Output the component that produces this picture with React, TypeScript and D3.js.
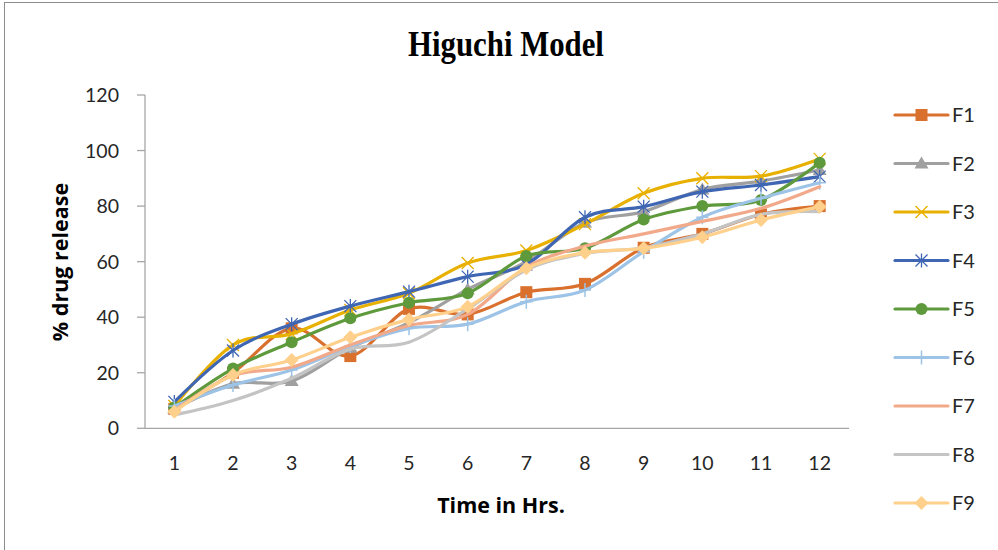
import React from "react";
import * as d3 from "d3";

const hours = ["1", "2", "3", "4", "5", "6", "7", "8", "9", "10", "11", "12"];
const yTicks = [0, 20, 40, 60, 80, 100, 120];

const F1 = [7, 20, 36, 26, 43, 41, 49, 52, 65, 70, 77, 80];
const F2 = [7, 16, 17, 29, 38, 50, 60, 74, 78, 86, 89, 93];
const F3 = [8, 30, 34, 42.6, 48.6, 59.5, 64, 73.5, 84.6, 90, 90.8, 97];
const F4 = [9.5, 28, 37.5, 44, 49.2, 54.6, 59, 76, 79.8, 85.2, 87.6, 90.6];
const F5 = [7.5, 21.5, 31, 39.6, 45.2, 48.6, 62, 64.8, 75.2, 80, 82.2, 95.6];
const F6 = [8, 15.6, 21, 29.5, 36, 37.5, 45.6, 49.8, 63.6, 76, 82.8, 88.4];
const F7 = [6.5, 19, 22, 30, 37, 41, 58, 65.6, 70, 74.5, 79.2, 87];
const F8 = [4.8, 10, 18, 28.5, 31, 43, 57, 63, 65, 70, 77, 78];
const F9 = [6, 19.2, 24.6, 32.8, 39.2, 43.8, 57.6, 63.2, 64.8, 68.8, 75, 79.8];

const seriesNames = ["F1", "F2", "F3", "F4", "F5", "F6", "F7", "F8", "F9"];
const seriesValues = [F1, F2, F3, F4, F5, F6, F7, F8, F9];
const seriesColors = ["#D9702E", "#A0A0A0", "#E8B000", "#3F66B3", "#5E9A3C", "#9DC3E6", "#F2A98A", "#C4C4C4", "#FFD08C"];
const seriesMarkers = ["square", "triangle", "x", "star", "circle", "plus", "none", "none", "diamond"];

const W = 998;
const H = 550;
const FONT = "Lato, 'Open Sans', sans-serif";

function Marker({ type, x, y, color }: { type: string; x: number; y: number; color: string }) {
  const s = 6;
  switch (type) {
    case "square":
      return <rect x={x - s} y={y - s} width={2 * s} height={2 * s} fill={color} />;
    case "triangle":
      return <path d={`M${x},${y - s - 1}L${x + s + 1},${y + s - 1}L${x - s - 1},${y + s - 1}Z`} fill={color} />;
    case "x":
      return (
        <path d={`M${x - s},${y - s}L${x + s},${y + s}M${x - s},${y + s}L${x + s},${y - s}`} stroke={color} strokeWidth={1.3} />
      );
    case "star":
      return (
        <path
          d={`M${x - s},${y - s}L${x + s},${y + s}M${x - s},${y + s}L${x + s},${y - s}M${x},${y - s - 1}L${x},${y + s + 1}`}
          stroke={color}
          strokeWidth={1.3}
        />
      );
    case "circle":
      return <circle cx={x} cy={y} r={s} fill={color} />;
    case "plus":
      return <path d={`M${x - s},${y}L${x + s},${y}M${x},${y - s - 1}L${x},${y + s + 1}`} stroke={color} strokeWidth={1.5} />;
    case "diamond":
      return <path d={`M${x},${y - s - 1}L${x + s + 1},${y}L${x},${y + s + 1}L${x - s - 1},${y}Z`} fill={color} />;
    default:
      return null;
  }
}

export default function App() {
  const x = d3.scalePoint<string>().domain(hours).range([145, 849]).padding(0.5);
  const y = d3.scaleLinear().domain([0, 120]).range([428.3, 95]);
  const line = d3
    .line<number>()
    .x((_, i) => x(hours[i]) as number)
    .y((d) => y(d))
    .curve(d3.curveCatmullRom.alpha(0));

  const legendY0 = 115;
  const legendStep = 48.5;

  return (
    <svg width={W} height={H} style={{ position: "absolute", left: 0, top: 0, background: "#fff" }} fontFamily={FONT}>
      <rect x={0} y={0} width={W} height={H} fill="#fff" />
      <rect x={4.5} y={2.5} width={W + 10} height={H + 10} fill="none" stroke="#8c8c8c" strokeWidth={1} />

      <g transform="translate(506,56) scale(0.88,1)">
        <text x={0} y={0} textAnchor="middle" fontFamily="'Liberation Serif', 'Times New Roman', serif" fontWeight="bold" fontSize={35} fill="#000">
          Higuchi Model
        </text>
      </g>

      {/* Y axis */}
      <line x1={145} x2={145} y1={y(120)} y2={y(0)} stroke="#A6A6A6" strokeWidth={1.3} />
      {yTicks.map((t) => (
        <g key={t}>
          <line x1={137} x2={145} y1={y(t)} y2={y(t)} stroke="#A6A6A6" strokeWidth={1.3} />
          <text x={119} y={y(t)} dy="0.36em" textAnchor="end" fontSize={19.5} fill="#262626">
            {t}
          </text>
        </g>
      ))}

      {/* X axis */}
      <line x1={145} x2={849} y1={y(0)} y2={y(0)} stroke="#A6A6A6" strokeWidth={1.3} />
      {hours.map((h) => (
        <text key={h} x={x(h)} y={463} dy="0.36em" textAnchor="middle" fontSize={19.5} fill="#262626">
          {h}
        </text>
      ))}

      <text x={501} y={505} dy="0.36em" textAnchor="middle" fontFamily="'Open Sans', sans-serif" fontWeight="bold" fontSize={21.5} fill="#000">
        Time in Hrs.
      </text>
      <text transform="translate(60,262) rotate(-90)" dy="0.36em" textAnchor="middle" fontFamily="'Open Sans', sans-serif" fontWeight="bold" fontSize={21.5} fill="#000">
        % drug release
      </text>

      {/* Series */}
      {seriesValues.map((vals, si) => (
        <g key={seriesNames[si]}>
          <path d={line(vals) || ""} fill="none" stroke={seriesColors[si]} strokeWidth={3.2} strokeLinecap="round" strokeLinejoin="round" />
          {vals.map((v, i) => (
            <Marker key={i} type={seriesMarkers[si]} x={x(hours[i]) as number} y={y(v)} color={seriesColors[si]} />
          ))}
        </g>
      ))}

      {/* Legend */}
      {seriesNames.map((n, si) => {
        const ly = legendY0 + si * legendStep;
        return (
          <g key={n}>
            <line x1={895} x2={948} y1={ly} y2={ly} stroke={seriesColors[si]} strokeWidth={3.2} strokeLinecap="round" />
            <Marker type={seriesMarkers[si]} x={921.5} y={ly} color={seriesColors[si]} />
            <text x={952} y={ly} dy="0.36em" fontSize={20} fill="#262626">
              {n}
            </text>
          </g>
        );
      })}
    </svg>
  );
}
